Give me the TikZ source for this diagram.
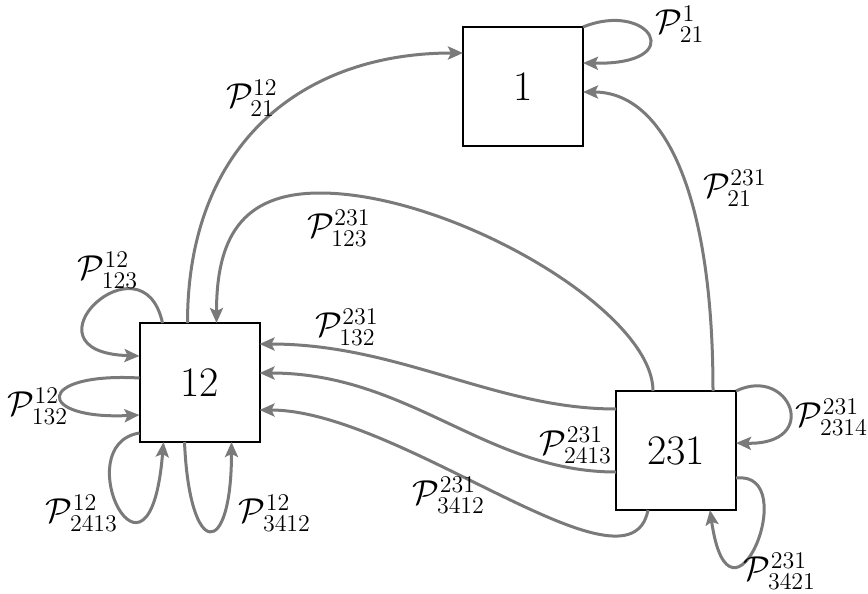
\documentclass[tikz,border=0pt]{standalone}
\usetikzlibrary{calc,arrows.meta}
\definecolor{edgegray}{RGB}{122,122,122}
\begin{document}
\begin{tikzpicture}[x=0.5pt,y=-0.5pt,
  statebox/.style={draw=black,line width=1pt,minimum width=60pt,minimum height=59.5pt,inner sep=0pt,outer sep=0pt,font=\fontsize{21}{25}\selectfont},
  edge/.style={draw=edgegray,line width=1.5pt,-{Stealth[length=7.5pt,width=6.5pt,inset=1.5pt]}},
  lbl/.style={inner sep=0pt,font=\fontsize{16.5}{20}\selectfont}]
\useasboundingbox (0,0) rectangle (868,594);

% boxes
\node[statebox] (n1) at (523,86.5) {1};
\node[statebox] (n12) at (199.5,382.5) {12};
\node[statebox] (n231) at (676,450.5) {231};

% edges into 1
\draw[edge] ($(n12.north west)+(48,0)$) .. controls +(0,-180) and +(-160,0) .. ($(n1.north west)+(0,26)$);
\draw[edge] (n1.north east) .. controls +(67,-27) and +(107,2) .. ($(n1.north east)+(0,36)$);
\draw[edge] ($(n231.north west)+(97,0)$) .. controls +(0,-200) and +(80,0) .. ($(n1.north east)+(0,65)$);

% edges from 231 to 12
\coordinate (p123top) at (320,193);
\draw[edge] ($(n231.north west)+(37,0)$) .. controls +(0,-81) and +(130,0) .. (p123top)
  .. controls +(-80,0) and +(0,-83) .. ($(n12.north west)+(77,0)$);
\draw[edge] ($(n231.north west)+(0,18)$) .. controls +(-120,0) and +(140,0) .. ($(n12.north east)+(0,21)$);
\draw[edge] ($(n231.north west)+(0,81)$) .. controls +(-130,0) and +(150,0) .. ($(n12.north east)+(0,50)$);
\draw[edge] ($(n231.south west)+(32,0)$) .. controls +(-18,95) and +(141,0) .. ($(n12.north east)+(0,87)$);

% loops at 231
\draw[edge] (n231.north east) .. controls +(54,-26) and +(86,2) .. ($(n231.north east)+(0,52)$);
\draw[edge] ($(n231.north east)+(0,87)$) .. controls +(68,-8) and +(20,140) .. ($(n231.south west)+(94,0)$);

% loops at 12
\draw[edge] ($(n12.north west)+(23,0)$) .. controls +(-20,-92) and +(-125,-4) .. ($(n12.north west)+(0,33)$);
\draw[edge] ($(n12.north west)+(0,55)$) .. controls +(-105,-6) and +(-105,5) .. ($(n12.north west)+(0,92)$);
\draw[edge] ($(n12.south west)+(0,-9)$) .. controls +(-74,12) and +(-14,173) .. ($(n12.south west)+(24,0)$);
\draw[edge] ($(n12.south west)+(45,0)$) .. controls +(5,118) and +(0,118) .. ($(n12.south west)+(92,0)$);

% labels
\node[lbl] (l1) at (680,24) {$\mathcal{P}^{1}_{21}$};
\node[lbl] (l2) at (252,98) {$\mathcal{P}^{12}_{21}$};
\node[lbl] (l3) at (735,188) {$\mathcal{P}^{231}_{21}$};
\node[lbl] (l4) at (339,228) {$\mathcal{P}^{231}_{123}$};
\node[lbl] (l5) at (108,270) {$\mathcal{P}^{12}_{123}$};
\node[lbl] (l6) at (347,327) {$\mathcal{P}^{231}_{132}$};
\node[lbl] (l7) at (38,406) {$\mathcal{P}^{12}_{132}$};
\node[lbl] (l8) at (576,445) {$\mathcal{P}^{231}_{2413}$};
\node[lbl] (l9) at (832,417) {$\mathcal{P}^{231}_{2314}$};
\node[lbl] (l10) at (82,513) {$\mathcal{P}^{12}_{2413}$};
\node[lbl] (l11) at (275,513) {$\mathcal{P}^{12}_{3412}$};
\node[lbl] (l12) at (449,495) {$\mathcal{P}^{231}_{3412}$};
\node[lbl] (l13) at (780,571) {$\mathcal{P}^{231}_{3421}$};
\end{tikzpicture}
\end{document}
